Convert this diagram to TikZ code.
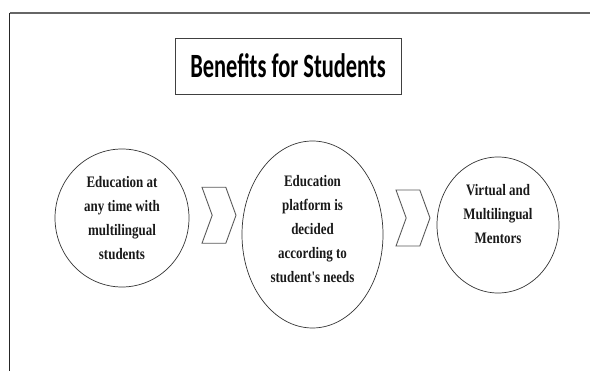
\documentclass[tikz,border=0pt]{standalone}
\usepackage{fontspec}
\setmainfont{Liberation Serif}
\newfontfamily\headfont[FakeStretch=0.66]{Carlito}
\newfontfamily\bodyfont[FakeStretch=0.81]{Liberation Serif}
\usepackage{tikz}
\usetikzlibrary{
	shapes.geometric,
	shapes.symbols,
	positioning,
	calc
}

\begin{document}
\begin{tikzpicture}[
		x=1pt, y=-1pt,
		heading/.style={
			rectangle, draw=black!75, line width=0.8pt,
			minimum width=226pt, minimum height=56pt,
			inner sep=0pt, font=\headfont\bfseries\fontsize{34}{40}\selectfont
		},
		bubble/.style={
			ellipse, draw=black!80, line width=0.7pt,
			inner sep=0pt, align=center, text=black!90,
			font=\bodyfont\bfseries\fontsize{16}{24}\selectfont
		},
		chev/.style={
			signal, signal from=west, signal to=east,
			signal pointer angle=140,
			draw=black!65, line width=0.9pt,
			minimum width=34pt, minimum height=56pt, inner sep=0pt
		}
		]
		
		\useasboundingbox (0,0) rectangle (590,371);
		
		% ---------------- frame ----------------
		\draw[black!60, line width=1.6pt] (9.5,13) -- (590,13);
		\draw[black!85, line width=1.2pt] (9.5,13) -- (9.5,371);
		
		% ---------------- heading ----------------
		\node[heading] (head) at (288,66) {Benefits for Students};
		
		% ---------------- benefits ----------------
		\node[bubble, minimum width=134pt, minimum height=138pt] (anytime) at (122,218) {
			Education at\\any time with\\multilingual\\students
		};
		
		\node[bubble, minimum width=141pt, minimum height=187pt, text depth=12pt] (platform) at (312.5,234.5) {
			Education\\platform is\\decided\\according to\\student's needs
		};
		
		\node[bubble, minimum width=122pt, minimum height=136pt, text depth=23pt] (mentors) at (498,225) {
			Virtual and\\Multilingual\\Mentors
		};
		
		% ---------------- chevrons between ----------------
		\node[chev] (next1) at (219,215.3) {};
		\node[chev] (next2) at (413,218) {};
	\end{tikzpicture}
\end{document}
